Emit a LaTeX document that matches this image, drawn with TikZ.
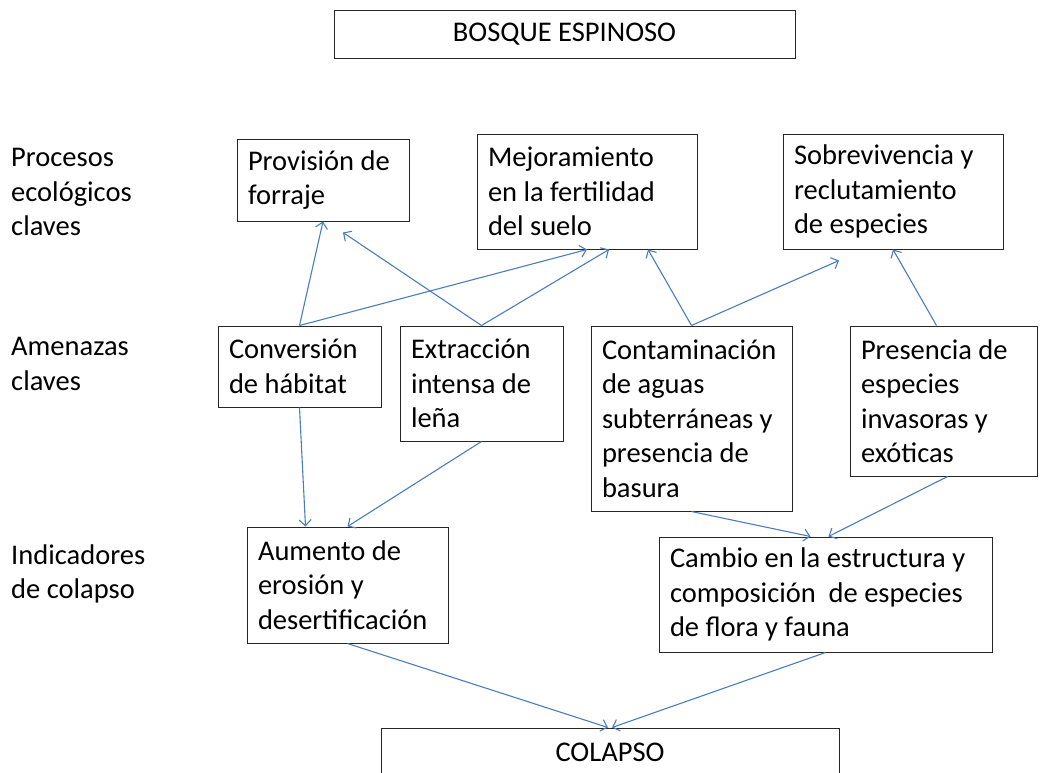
\documentclass[tikz,border=0pt]{standalone}
\usepackage{fontspec}
\setmainfont{Carlito}
\usepackage{xcolor}
\usetikzlibrary{arrows.meta}
\definecolor{myblue}{rgb}{0.29,0.49,0.73}
\definecolor{mygray}{gray}{0.15}

\begin{document}
\begin{tikzpicture}[x=1pt,y=-1pt,
  every node/.style={font=\fontsize{28.5pt}{34.5pt}\selectfont, text=black},
  box/.style={draw=mygray, line width=1pt, align=flush left, inner xsep=11pt, inner ysep=0pt},
  label/.style={align=left, anchor=west, inner sep=0pt},
  link/.style={myblue, line width=1.1pt, -{Straight Barb[length=6pt,width=12pt]}}]

\useasboundingbox (0,0) rectangle (1042,772);

% column of level names
\node[label] (lproc) at (11,192) {Procesos\\ecológicos\\claves};
\node[label] (lamen) at (11,364) {Amenazas\\claves};
\node[label] (lindi) at (11,574) {Indicadores\\de colapso};

% top and bottom
\node[box, align=center, minimum width=461, minimum height=48] (bosque) at (564.5,34) {BOSQUE ESPINOSO};
\node[box, align=center, minimum width=458, minimum height=48] (colapso) at (610,752) {COLAPSO};

% procesos ecologicos
\node[box, text width=150, minimum height=82] (prov) at (323,180) {Provisión de\\forraje};
\node[box, text width=198, minimum height=115] (mejor) at (587,191.5) {Mejoramiento\\en la fertilidad\\del suelo};
\node[box, text width=198, minimum height=115] (sobre) at (893,191.5) {Sobrevivencia y\\reclutamiento\\de especies};

% amenazas
\node[box, text width=141, minimum height=81] (conv) at (299.5,366.5) {Conversión\\de hábitat};
\node[box, text width=141, minimum height=115] (extr) at (481.5,383.5) {Extracción\\intensa de\\leña};
\node[box, text width=179, minimum height=185] (conta) at (691.5,418.5) {Contaminación\\de aguas\\subterráneas y\\presencia de\\basura};
\node[box, text width=165, minimum height=150] (pres) at (943.5,401) {Presencia de\\especies\\invasoras y\\exóticas};

% indicadores
\node[box, text width=179, minimum height=116] (aum) at (347.5,585) {Aumento de\\erosión y\\desertificación};
\node[box, text width=311, minimum height=115] (cambio) at (825.5,594.5) {Cambio en la estructura y\\composición\ \ de especies\\de flora y fauna};

% arrows up
\draw[link] (conv.north) -- (prov.south);
\draw[link] (extr.north) -- ([xshift=20pt,yshift=-11pt]prov.south);
\draw[link] (conv.north) -- (mejor.south);
\draw[link] (extr.north) -- ([xshift=22pt]mejor.south);
\draw[link] (conta.north) -- ([xshift=61pt]mejor.south);
\draw[link] (conta.north) -- ([xshift=-54pt,yshift=-11pt]sobre.south);
\draw[link] ([xshift=-7pt]pres.north) -- (sobre.south);

% arrows down
\draw[link] (conv.south) -- ([xshift=-42pt]aum.north);
\draw[link] (extr.south) -- (aum.north);
\draw[link] (conta.south) -- ([xshift=-15pt]cambio.north);
\draw[link] ([xshift=4pt]pres.south) -- ([xshift=3pt]cambio.north);
\draw[link] (aum.south) -- ([xshift=-2pt]colapso.north);
\draw[link] (cambio.south) -- ([xshift=2pt]colapso.north);
\end{tikzpicture}
\end{document}
